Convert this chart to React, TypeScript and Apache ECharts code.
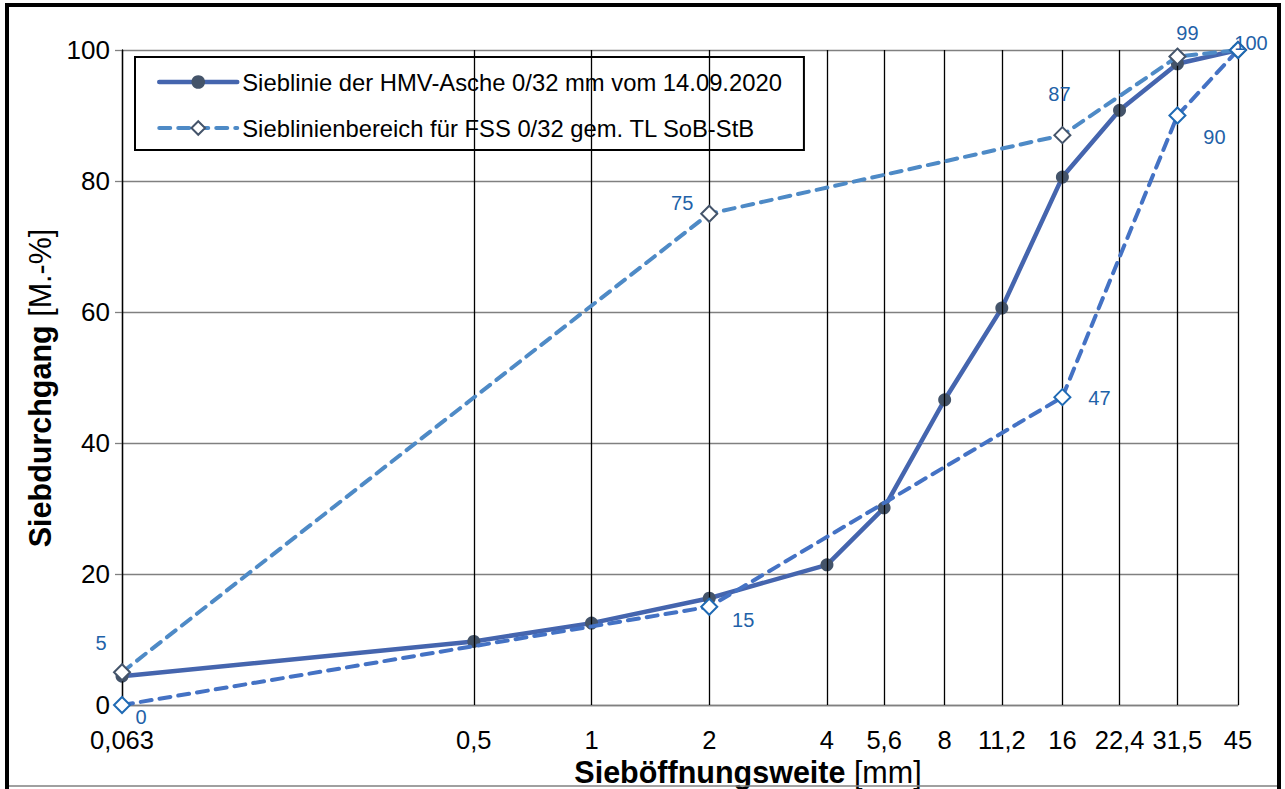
import React, { useEffect, useRef } from "react";
import * as echarts from "echarts";

const FONT = "'Liberation Sans', Arial, sans-serif";

const seriesNames = [
  "Sieblinie der HMV-Asche 0/32 mm vom 14.09.2020",
  "Sieblinienbereich für FSS 0/32 gem. TL SoB-StB",
];

// sieve sizes [mm]
const sieveSizes = [0.063, 0.5, 1, 2, 4, 5.6, 8, 11.2, 16, 22.4, 31.5, 45];
const sieveLabels = ["0,063", "0,5", "1", "2", "4", "5,6", "8", "11,2", "16", "22,4", "31,5", "45"];

// measured grading curve [% passing]
const measured = [4.4, 9.7, 12.5, 16.3, 21.4, 30.1, 46.6, 60.6, 80.6, 90.8, 97.9, 100];

// grading envelope
const upperSizes = [0.063, 2, 16, 31.5, 45];
const upperValues = [5, 75, 87, 99, 100];
const lowerSizes = [0.063, 2, 16, 31.5, 45];
const lowerValues = [0, 15, 47, 90, 100];

// label placement (offset from point, px)
const upperLabelOffsets = [[-21, -29], [-27, -11], [-3, -41], [10, -24], [13, -7]];
const lowerLabelOffsets = [[19, 12], [34, 13], [37, 1], [37, 21], null];

const yTicks = { min: 0, max: 100, interval: 20 };

export default function App() {
  const ref = useRef<HTMLDivElement>(null);

  useEffect(() => {
    if (!ref.current) return;
    const chart = echarts.init(ref.current, null, { renderer: "svg" });

    const labelColor = "#1f62a8";
    const mkEnvelope = (sizes: number[], values: number[], offsets: any[]) =>
      sizes.map((s, i) => {
        const off = offsets[i];
        return {
          value: [s, values[i]],
          label: off
            ? {
                show: true,
                position: "inside",
                offset: off,
                formatter: String(values[i]),
                color: labelColor,
                fontSize: 20,
                fontFamily: FONT,
              }
            : { show: false },
        };
      });

    const option: any = {
      animation: false,
      backgroundColor: "#fff",
      grid: { left: 122, right: 47, top: 50, bottom: 84, containLabel: false },
      xAxis: {
        type: "log",
        logBase: 10,
        min: 0.06299,
        max: 45.001,
        axisLine: { show: true, lineStyle: { color: "#808080", width: 1.3 } },
        axisTick: { show: false },
        axisLabel: { show: false },
        splitLine: { show: false },
        minorTick: { show: false },
        minorSplitLine: { show: false },
      },
      yAxis: {
        type: "value",
        min: yTicks.min,
        max: yTicks.max,
        interval: yTicks.interval,
        axisLine: { show: true, lineStyle: { color: "#000", width: 1.3 } },
        axisTick: { show: true, length: 7, lineStyle: { color: "#808080", width: 1.3 } },
        axisLabel: { fontSize: 26, color: "#000", margin: 12, fontFamily: FONT },
        splitLine: { show: true, lineStyle: { color: "#808080", width: 1.3 } },
      },
      legend: {
        left: 135,
        top: 57,
        orient: "vertical",
        backgroundColor: "#fff",
        borderColor: "#000",
        borderWidth: 2,
        borderRadius: 0,
        padding: [13, 22, 10, 22],
        itemGap: 22,
        itemWidth: 78,
        itemHeight: 17,
        lineStyle: { width: "inherit", type: "inherit", cap: "round" },
        textStyle: { fontSize: 23.8, color: "#000", fontFamily: FONT },
        data: seriesNames,
      },
      graphic: [
        {
          type: "text",
          x: 40,
          y: 388,
          rotation: Math.PI / 2,
          style: {
            text: "{b|Siebdurchgang}{n| [M.-%]}",
            align: "center",
            verticalAlign: "middle",
            rich: {
              b: { fontSize: 30.5, fontWeight: "bold", fontFamily: FONT, fill: "#000" },
              n: { fontSize: 30.5, fontFamily: FONT, fill: "#000" },
            },
          },
        },
        {
          type: "text",
          x: 748,
          y: 772,
          style: {
            text: "{b|Sieböffnungsweite}{n| [mm]}",
            align: "center",
            verticalAlign: "middle",
            rich: {
              b: { fontSize: 30.5, lineHeight: 30, fontWeight: "bold", fontFamily: FONT, fill: "#000" },
              n: { fontSize: 30.5, lineHeight: 30, fontFamily: FONT, fill: "#000" },
            },
          },
        },
        {
          type: "rect",
          shape: { x: 7, y: 5, width: 1272, height: 790 },
          style: { fill: "none", stroke: "#000", lineWidth: 4 },
          silent: true,
        },
        {
          type: "line",
          shape: { x1: 9, y1: 786, x2: 1277, y2: 786 },
          style: { stroke: "#808080", lineWidth: 1.5 },
          silent: true,
        },
      ],
      series: [
        {
          name: "grid",
          type: "line",
          data: [],
          z: 1,
          silent: true,
          markLine: {
            silent: true,
            symbol: ["none", "none"],
            animation: false,
            precision: 4,
            lineStyle: { color: "#000", width: 1.3, type: "solid" },
            label: {
              show: true,
              position: "start",
              distance: 23,
              formatter: "{b}",
              color: "#000",
              fontSize: 25.5,
              lineHeight: 24,
              fontFamily: FONT,
            },
            emphasis: { disabled: true },
            data: sieveSizes.map((s, i) => ({ xAxis: s, name: sieveLabels[i] })),
          },
        },
        {
          name: seriesNames[0],
          type: "line",
          z: 4,
          data: sieveSizes.map((s, i) => [s, measured[i]]),
          symbol: "circle",
          symbolSize: 13,
          itemStyle: { color: "#44546a" },
          lineStyle: { color: "#4565ae", width: 4.5 },
        },
        {
          name: seriesNames[1],
          type: "line",
          z: 5,
          data: mkEnvelope(upperSizes, upperValues, upperLabelOffsets),
          symbol: "diamond",
          symbolSize: 16,
          itemStyle: { color: "#fff", borderColor: "#44546a", borderWidth: 2 },
          lineStyle: { color: "#4e8ac6", width: 4, type: [11, 8], cap: "round" },
        },
        {
          name: seriesNames[1],
          type: "line",
          z: 5,
          data: mkEnvelope(lowerSizes, lowerValues, lowerLabelOffsets),
          symbol: "diamond",
          symbolSize: 16,
          itemStyle: { color: "#fff", borderColor: "#1f6ab4", borderWidth: 2 },
          lineStyle: { color: "#4472c4", width: 4, type: [11, 8], cap: "round" },
        },
      ],
    };

    chart.setOption(option);
    return () => chart.dispose();
  }, []);

  return (
    <div
      ref={ref}
      style={{ position: "absolute", left: 0, top: 0, width: 1285, height: 789, background: "#fff" }}
    />
  );
}
